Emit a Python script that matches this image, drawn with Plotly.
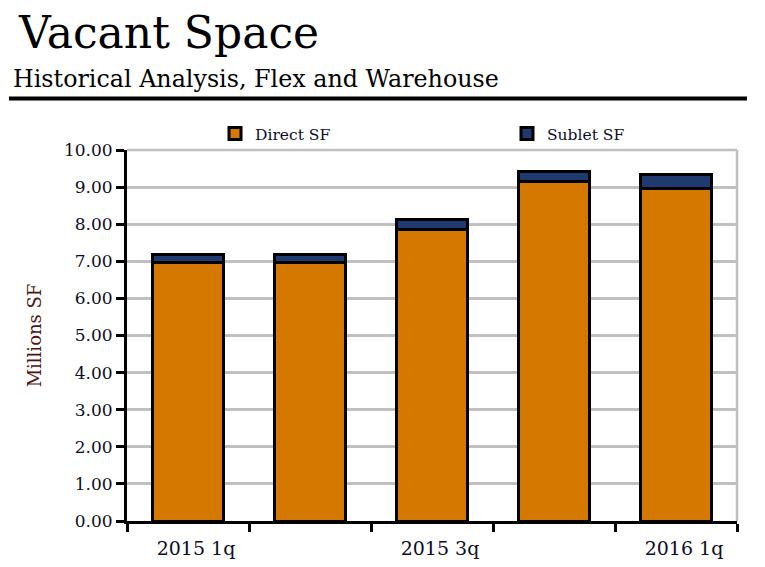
import plotly.graph_objects as go

categories = ["2015 1q", "2015 2q", "2015 3q", "2015 4q", "2016 1q"]
direct_sf = [6.98, 6.97, 7.86, 9.14, 8.95]
sublet_sf = [0.21, 0.22, 0.26, 0.29, 0.39]
y_ticks = [0, 1, 2, 3, 4, 5, 6, 7, 8, 9, 10]
label_every = 2

FONT = "DejaVu Serif"
ORANGE = "#D47800"
NAVY = "#1F3A6E"
GRID = "#C0C0C0"

# plot area on the page, in pixels
PL, PR, PT, PB = 127, 737, 150, 521
PAGE_OFF = 8  # page body margin


def px_x(p):
    return (p - PL) / (PR - PL)


def px_y(p):
    return (PB - p) / (PB - PT)


xpos = list(range(len(categories)))

fig = go.Figure()
fig.add_trace(go.Bar(
    x=xpos, y=direct_sf, name="Direct SF", width=0.58, legend="legend",
    marker=dict(color=ORANGE, line=dict(color="black", width=3)),
))
fig.add_trace(go.Bar(
    x=xpos, y=sublet_sf, name="Sublet SF", width=0.58, legend="legend2",
    marker=dict(color=NAVY, line=dict(color="black", width=3)),
))
# invisible trace to carry the category label axis
fig.add_trace(go.Scatter(x=xpos, y=[None] * len(xpos), xaxis="x2", showlegend=False,
                         hoverinfo="skip", mode="markers"))

n = len(categories)
boundaries = [i - 0.5 for i in range(n + 1)]

legend_common = dict(orientation="h", xanchor="left", yanchor="middle",
                     font=dict(family=FONT, size=15.5, color="#0d0d26"),
                     bgcolor="rgba(0,0,0,0)", borderwidth=0)

fig.update_layout(
    barmode="stack",
    width=765 - PAGE_OFF, height=567 - PAGE_OFF,
    margin=dict(l=PL - PAGE_OFF, r=765 - PR, t=PT - PAGE_OFF, b=567 - PB),
    paper_bgcolor="white", plot_bgcolor="white",
    font=dict(family=FONT, color="#111122"),
    showlegend=True,
    legend=dict(x=px_x(215), y=px_y(134), **legend_common),
    legend2=dict(x=px_x(507), y=px_y(134), **legend_common),
    xaxis=dict(range=[-0.5, n - 0.5], tickmode="array", tickvals=boundaries,
               ticktext=[""] * len(boundaries), ticks="outside", ticklen=8,
               tickwidth=3, tickcolor="black", showline=True, linecolor="black",
               linewidth=3, showgrid=False, zeroline=False, mirror=False,
               automargin=False),
    xaxis2=dict(overlaying="x", matches="x", side="bottom", showline=False,
                tickmode="array", tickvals=xpos[::label_every],
                ticktext=categories[::label_every], ticks="", showgrid=False,
                zeroline=False, tickfont=dict(family=FONT, size=19, color="#0d0d26"),
                ticklabelstandoff=14, ticklabelshift=8, automargin=False),
    yaxis=dict(range=[0, 10], tickmode="array", tickvals=y_ticks,
               ticktext=[f"{v:.2f}" for v in y_ticks], ticks="outside", ticklen=8,
               tickwidth=3, tickcolor="black", showline=True, linecolor="black",
               linewidth=3, showgrid=True, gridcolor=GRID, gridwidth=2.5,
               zeroline=False, tickfont=dict(family=FONT, size=17, color="#0d0d26"),
               automargin=False,
               title=dict(text="Millions SF", font=dict(family=FONT, size=18, color="#4a1414"),
                          standoff=18)),
)

# grey frame on top and right of plot area
fig.add_shape(type="line", xref="paper", yref="paper", x0=0, x1=1, y0=1, y1=1,
              line=dict(color=GRID, width=2.5), layer="below")
fig.add_shape(type="line", xref="paper", yref="paper", x0=1, x1=1, y0=0, y1=1,
              line=dict(color=GRID, width=2.5), layer="below")

# title block
fig.add_annotation(text="Vacant Space", xref="paper", yref="paper", x=px_x(16), y=px_y(32),
                   xanchor="left", yanchor="middle", showarrow=False,
                   font=dict(family=FONT, size=44, color="black"))
fig.add_annotation(text="Historical Analysis, Flex and Warehouse", xref="paper", yref="paper",
                   x=px_x(11), y=px_y(79), xanchor="left", yanchor="middle", showarrow=False,
                   font=dict(family=FONT, size=23.8, color="black"))
fig.add_shape(type="line", xref="paper", yref="paper", x0=px_x(9), x1=px_x(747),
              y0=px_y(98.5), y1=px_y(98.5), line=dict(color="black", width=4))

fig.write_html("out.html")
